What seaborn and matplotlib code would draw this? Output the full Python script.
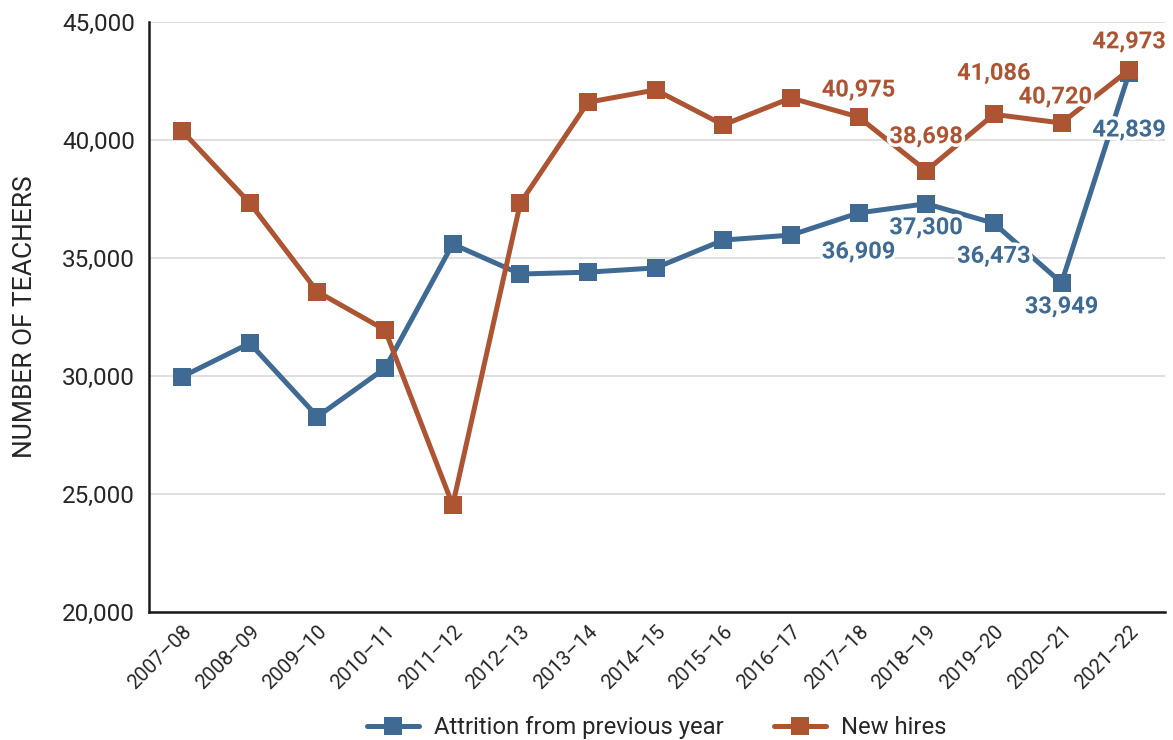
import matplotlib
matplotlib.use("Agg")
import matplotlib.pyplot as plt
import matplotlib.patheffects as pe
import seaborn as sns
import pandas as pd
from matplotlib.ticker import FuncFormatter, MultipleLocator

# ---- data ----
years = ["2007–08", "2008–09", "2009–10", "2010–11", "2011–12", "2012–13", "2013–14",
         "2014–15", "2015–16", "2016–17", "2017–18", "2018–19", "2019–20", "2020–21", "2021–22"]
attrition = [29970, 31390, 28280, 30330, 35590, 34320, 34400, 34580, 35760, 35970,
             36909, 37300, 36473, 33949, 42839]
new_hires = [40380, 37330, 33570, 31950, 24530, 37330, 41600, 42120, 40640, 41780,
             40975, 38698, 41086, 40720, 42973]
series_names = ["Attrition from previous year", "New hires"]
labeled_from = 10  # value labels shown from 2017–18 onward

# label offsets in pixels (layout only)
off_att = [(0, -39), (0, -24), (0, -33), (0, -24), (0, -57)]
off_new = [(0, 27), (0, 34), (0, 41), (-6, 26), (0, 28)]

BLUE = "#3F6A93"
RED = "#AD5433"

sns.set_theme(style="white")
plt.rcParams["font.family"] = ["Roboto", "DejaVu Sans"]

fig = plt.figure(figsize=(11.73, 7.4), dpi=100)
ax = fig.add_axes([149/1173, 1-612/740, (1165-149)/1173, (612-22)/740])

df = pd.DataFrame({"year": years, series_names[0]: attrition, series_names[1]: new_hires})
long = df.melt(id_vars="year", var_name="series", value_name="value")
long["x"] = long["year"].map({y: i for i, y in enumerate(years)})

sns.lineplot(data=long, x="x", y="value", hue="series", palette=[BLUE, RED],
             hue_order=series_names, marker="s", markersize=12.5, markeredgewidth=0,
             linewidth=3.6, sort=False, ax=ax, legend=True)

ax.set_xlim(-0.49, 14.53)
ax.set_ylim(20000, 45000)
ax.yaxis.set_major_locator(MultipleLocator(5000))
ax.yaxis.set_major_formatter(FuncFormatter(lambda v, p: f"{int(v):,}"))
ax.set_xticks(range(len(years)))
ax.set_xticklabels(years, rotation=45, ha="right", va="top", rotation_mode="anchor")

ax.grid(axis="y", color="#d6d6d6", linewidth=1.1)
ax.grid(axis="x", visible=False)
ax.set_axisbelow(True)
for s in ["top", "right"]:
    ax.spines[s].set_visible(False)
for s in ["left", "bottom"]:
    ax.spines[s].set_color("#1a1a1a")
    ax.spines[s].set_linewidth(1.8)

ax.tick_params(axis="y", length=0, pad=10, labelsize=17.5, labelcolor="#262626")
ax.tick_params(axis="x", direction="in", length=11, width=1.5, color="#1a1a1a",
               pad=7, labelsize=14.5, labelcolor="#262626")
ax.set_xlabel("")
ax.set_ylabel("NUMBER OF TEACHERS", fontsize=19, color="#262626", labelpad=18)

halo = [pe.withStroke(linewidth=5, foreground="white")]
for k, i in enumerate(range(labeled_from, len(years))):
    ax.annotate(f"{attrition[i]:,}", (i, attrition[i]), xytext=off_att[k],
                textcoords="offset pixels", ha="center", va="center",
                fontsize=17, fontweight="bold", color=BLUE, path_effects=halo, zorder=5)
    ax.annotate(f"{new_hires[i]:,}", (i, new_hires[i]), xytext=off_new[k],
                textcoords="offset pixels", ha="center", va="center",
                fontsize=17, fontweight="bold", color=RED, path_effects=halo, zorder=5)

leg = ax.legend(loc="center", bbox_to_anchor=(0.5, -0.196), ncol=2, frameon=False,
                fontsize=17.2, handlelength=2.15, columnspacing=2.1, handletextpad=0.65)
for t in leg.get_texts():
    t.set_color("#262626")

fig.savefig("out.png", dpi=100)
